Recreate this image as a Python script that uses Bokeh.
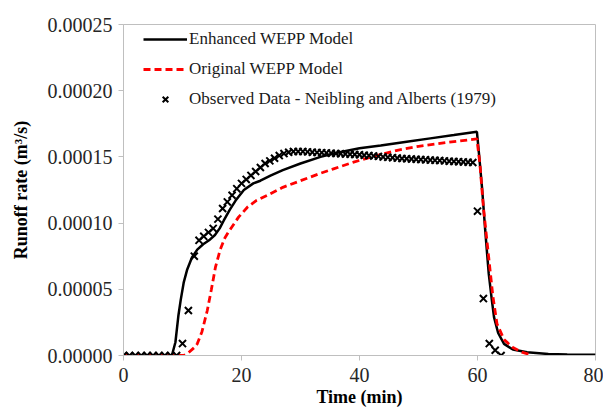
from bokeh.plotting import figure
from bokeh.models import FixedTicker, PrintfTickFormatter, Legend, LegendItem
from bokeh.embed import file_html
from bokeh.resources import INLINE

# ---- data ----
enh_t = [0, 8.2, 8.8, 9.3, 9.7, 10.2, 10.8, 11.6, 12.5, 13.5, 14.5, 15.5, 16.3, 17.0,
         18.0, 19.0, 20.4, 22.0, 23.2, 25.0, 27.0, 30.0, 33.4, 36.0, 40.0, 43.6, 48.0,
         52.0, 56.0, 59.9, 60.3, 60.8, 61.3, 61.9, 62.4, 62.8, 63.5, 64.5, 66.0, 68.4,
         72.0, 75.2, 80.0]
enh_q = [0, 0, 0.10e-4, 0.30e-4, 0.42e-4, 0.55e-4, 0.65e-4, 0.74e-4, 0.80e-4, 0.84e-4,
         0.87e-4, 0.91e-4, 0.96e-4, 1.02e-4, 1.10e-4, 1.17e-4, 1.25e-4, 1.30e-4, 1.32e-4,
         1.36e-4, 1.40e-4, 1.45e-4, 1.50e-4, 1.53e-4, 1.565e-4, 1.586e-4, 1.615e-4,
         1.64e-4, 1.665e-4, 1.69e-4, 1.50e-4, 1.25e-4, 0.95e-4, 0.62e-4, 0.43e-4,
         0.29e-4, 0.17e-4, 0.088e-4, 0.045e-4, 0.025e-4, 0.012e-4, 0.008e-4, 0.005e-4]

orig_t = [0, 10.2, 11.0, 12.0, 12.5, 13.3, 14.2, 14.9, 15.6, 16.4, 17.2, 17.9, 19.5, 21.0,
          22.5, 24.4, 27.0, 30.0, 33.0, 35.6, 39.0, 42.0, 46.4, 50.0, 55.0, 59.9, 60.4,
          61.0, 61.9, 62.6, 63.3, 64.5, 66.0, 67.5, 68.7, 69.2]
orig_q = [0, 0, 0.02e-4, 0.06e-4, 0.088e-4, 0.18e-4, 0.34e-4, 0.50e-4, 0.67e-4, 0.80e-4,
          0.89e-4, 0.94e-4, 1.045e-4, 1.12e-4, 1.17e-4, 1.21e-4, 1.27e-4, 1.32e-4,
          1.37e-4, 1.41e-4, 1.46e-4, 1.50e-4, 1.55e-4, 1.58e-4, 1.61e-4, 1.636e-4,
          1.45e-4, 1.12e-4, 0.74e-4, 0.45e-4, 0.24e-4, 0.12e-4, 0.06e-4, 0.025e-4,
          0.01e-4, 0.0]

obs_t = [0, 1, 2, 3, 4, 5, 6, 7, 8, 9, 10, 11, 12.0,
         12.8, 13.6, 14.4, 15.2, 16.0, 16.8, 17.6, 18.4, 19.2, 20.0, 20.8, 21.6, 22.4,
         23.2, 24.0, 24.8, 25.6, 26.4, 27.2, 28.0, 28.8, 29.6, 30.4, 31.2, 32.0, 32.8,
         33.6, 34.4, 35.2, 36.0, 36.8, 37.6, 38.4, 39.2, 40.0, 40.8, 41.6, 42.4, 43.2,
         44.0, 44.8, 45.6, 46.4, 47.2, 48.0, 48.8, 49.6, 50.4, 51.2, 52.0, 52.8, 53.6,
         54.4, 55.2, 56.0, 56.8, 57.6, 58.4, 59.2,
         60.0, 61.0, 62.0, 63.0, 64.0]
obs_q = [0, 0, 0, 0, 0, 0, 0, 0, 0, 0, 0.09e-4, 0.34e-4, 0.75e-4,
         0.87e-4, 0.90e-4, 0.93e-4, 0.96e-4, 1.03e-4, 1.11e-4, 1.16e-4, 1.21e-4, 1.26e-4,
         1.30e-4, 1.33e-4, 1.36e-4, 1.39e-4, 1.42e-4, 1.45e-4, 1.47e-4, 1.49e-4, 1.51e-4,
         1.525e-4, 1.535e-4, 1.54e-4, 1.54e-4, 1.54e-4, 1.538e-4, 1.536e-4, 1.534e-4,
         1.532e-4, 1.53e-4, 1.528e-4, 1.526e-4, 1.524e-4, 1.522e-4, 1.52e-4, 1.518e-4,
         1.516e-4, 1.513e-4, 1.51e-4, 1.507e-4, 1.504e-4, 1.50e-4, 1.497e-4, 1.494e-4,
         1.491e-4, 1.488e-4, 1.486e-4, 1.484e-4, 1.482e-4, 1.48e-4, 1.478e-4, 1.476e-4,
         1.474e-4, 1.472e-4, 1.47e-4, 1.468e-4, 1.466e-4, 1.464e-4, 1.462e-4, 1.46e-4,
         1.458e-4,
         1.09e-4, 0.43e-4, 0.09e-4, 0.04e-4, 0.0]

x_ticks = [0, 20, 40, 60, 80]
y_ticks = [0, 0.00005, 0.00010, 0.00015, 0.00020, 0.00025]

labels = ["Enhanced WEPP Model", "Original WEPP Model",
          "Observed Data - Neibling and Alberts (1979)"]

SERIF = "Liberation Serif"
GRAY = "#bfbfbf"

p = figure(width=603, height=409, x_range=(0, 80), y_range=(0, 0.00025),
           output_backend="svg", toolbar_location=None,
           min_border_left=123, min_border_right=8, min_border_top=24,
           min_border_bottom=54)

p.xgrid.visible = False
p.ygrid.visible = False
p.outline_line_color = GRAY
p.outline_line_width = 1
p.background_fill_color = "white"
p.border_fill_color = "white"

r_enh = p.line(enh_t, enh_q, line_color="black", line_width=2.5)
r_orig = p.line(orig_t, orig_q, line_color="#ff0000", line_width=2.8, line_dash="7 4")
r_obs = p.scatter(obs_t, obs_q, marker="x", size=10, line_color="black", line_width=2)

for ax in (p.xaxis[0], p.yaxis[0]):
    ax.axis_line_color = GRAY
    ax.major_tick_line_color = GRAY
    ax.major_tick_out = 5
    ax.major_tick_in = 0
    ax.minor_tick_line_color = None
    ax.major_label_text_font = SERIF
    ax.major_label_text_font_size = "20px"
    ax.major_label_text_color = "#262626"
    ax.axis_label_text_font = SERIF
    ax.axis_label_text_font_style = "bold"
    ax.axis_label_text_font_size = "18px"
    ax.axis_label_text_color = "black"

p.xaxis[0].ticker = FixedTicker(ticks=x_ticks)
p.yaxis[0].ticker = FixedTicker(ticks=y_ticks)
p.yaxis[0].formatter = PrintfTickFormatter(format="%.5f")
p.xaxis[0].axis_label = "Time (min)"
p.yaxis[0].axis_label = "Runoff rate (m³/s)"
p.xaxis[0].major_label_standoff = 7
p.yaxis[0].major_label_standoff = 6
p.xaxis[0].axis_label_standoff = 2
p.yaxis[0].axis_label_standoff = 14

legend = Legend(items=[LegendItem(label=labels[0], renderers=[r_enh]),
                       LegendItem(label=labels[1], renderers=[r_orig]),
                       LegendItem(label=labels[2], renderers=[r_obs])],
                location=(20, 246))
legend.margin = 0
legend.padding = 6
legend.spacing = 10
legend.glyph_width = 44
legend.glyph_height = 20
legend.label_height = 20
legend.label_standoff = 2
legend.label_text_font = SERIF
legend.label_text_font_size = "17px"
legend.label_text_color = "#1a1a1a"
legend.border_line_color = None
legend.background_fill_alpha = 0
p.add_layout(legend)

open("out.html", "w").write(file_html(p, INLINE))
